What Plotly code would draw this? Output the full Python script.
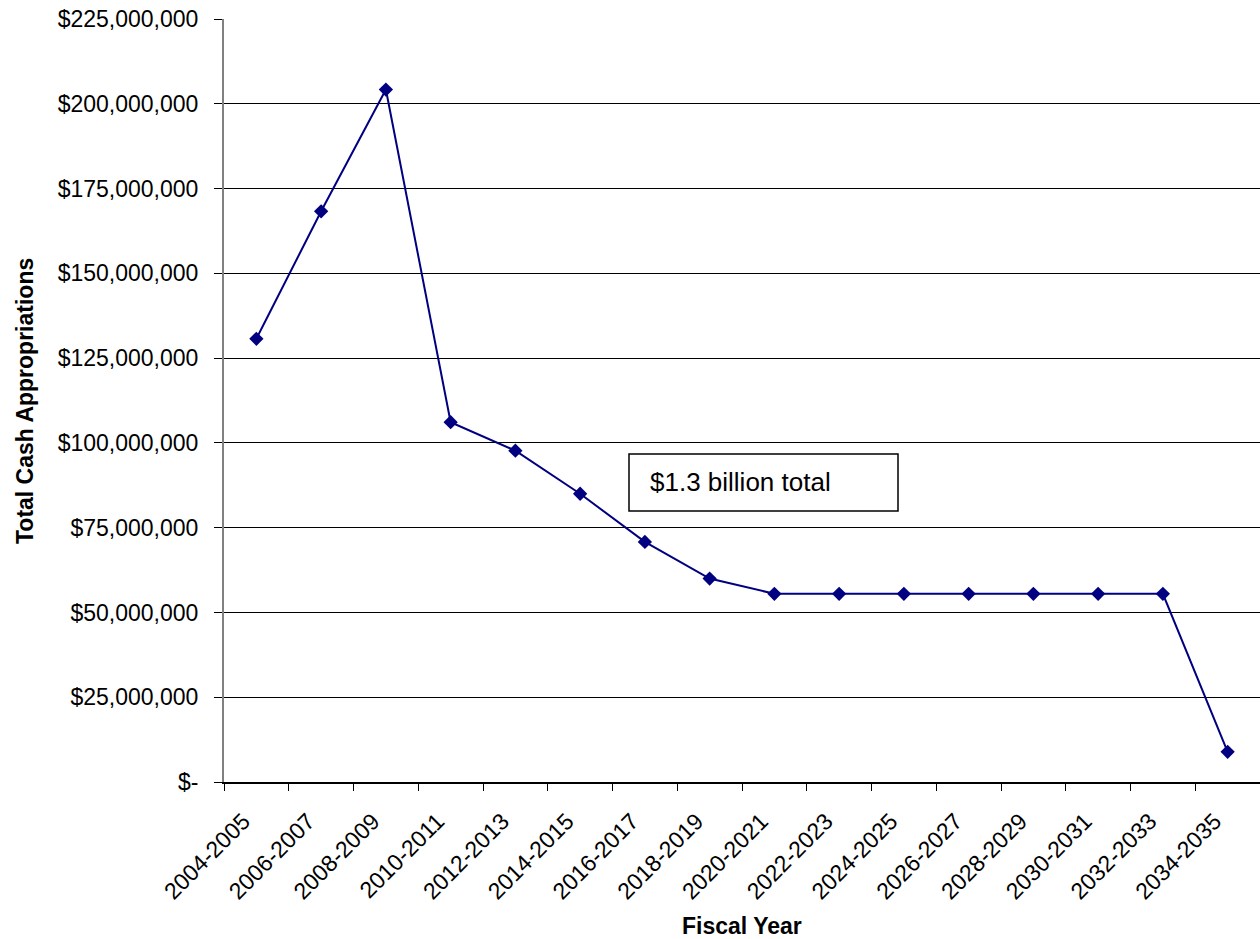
import plotly.graph_objects as go

fiscal_years = ["2004-2005", "2006-2007", "2008-2009", "2010-2011", "2012-2013",
                "2014-2015", "2016-2017", "2018-2019", "2020-2021", "2022-2023",
                "2024-2025", "2026-2027", "2028-2029", "2030-2031", "2032-2033",
                "2034-2035"]
appropriations = [130.7e6, 168.3e6, 204.2e6, 106.1e6, 97.7e6,
                  85.0e6, 70.8e6, 60.0e6, 55.5e6, 55.5e6,
                  55.5e6, 55.5e6, 55.5e6, 55.5e6, 55.5e6,
                  8.9e6]
y_tick_vals = [0, 25e6, 50e6, 75e6, 100e6, 125e6, 150e6, 175e6, 200e6, 225e6]
y_tick_text = ["$-", "$25,000,000", "$50,000,000", "$75,000,000", "$100,000,000",
               "$125,000,000", "$150,000,000", "$175,000,000", "$200,000,000",
               "$225,000,000"]
note_text = "$1.3 billion total"
x_title = "Fiscal Year"
y_title = "Total Cash Appropriations"

FONT = "Liberation Sans, Arial, sans-serif"
W, H = 1260, 939
L, R, T, B = 224, 0, 19, 157
pw = W - L - R
ph = H - T - B


def px_x(x):
    return (x - L) / pw


def px_y(y):
    return (H - B - y) / ph


fig = go.Figure()
fig.add_trace(go.Scatter(
    x=fiscal_years, y=appropriations, mode="lines+markers",
    line=dict(color="#000080", width=2),
    marker=dict(symbol="diamond", size=11, color="#000080"),
    showlegend=False, hoverinfo="x+y",
))

fig.update_layout(
    width=W, height=H,
    margin=dict(l=L, r=R, t=T, b=B, pad=0),
    paper_bgcolor="white", plot_bgcolor="white",
    font=dict(family=FONT, size=23, color="black"),
    xaxis=dict(
        type="category", range=[-0.5, len(fiscal_years) - 0.5],
        showline=True, linecolor="black", linewidth=1.5,
        ticks="outside", ticklen=7, tickcolor="black", tickwidth=1,
        tickson="boundaries", tickangle=-45, showgrid=False, zeroline=False,
        tickfont=dict(family=FONT, size=23, color="black"),
        ticklabelstandoff=15, ticklabelshift=-13,
    ),
    yaxis=dict(
        range=[0, 225e6], tickvals=y_tick_vals, ticktext=y_tick_text,
        showline=True, linecolor="#808080", linewidth=2,
        ticks="outside", ticklen=8, tickcolor="black", tickwidth=1,
        showgrid=True, gridcolor="black", gridwidth=1, zeroline=False,
        tickfont=dict(family=FONT, size=23, color="black"),
        ticklabelstandoff=11,
    ),
    shapes=[dict(
        type="rect", xref="paper", yref="paper",
        x0=px_x(629), x1=px_x(898), y0=px_y(511), y1=px_y(454),
        line=dict(color="black", width=1.5), fillcolor="white", layer="above",
    )],
    annotations=[
        dict(text=note_text, xref="paper", yref="paper",
             x=px_x(648), y=px_y(482), xanchor="left", yanchor="middle",
             showarrow=False, font=dict(family=FONT, size=26, color="black")),
        dict(text="<b>" + x_title + "</b>", xref="paper", yref="paper",
             x=px_x(742), y=px_y(926), xanchor="center", yanchor="middle",
             showarrow=False, font=dict(family=FONT, size=23, color="black")),
        dict(text="<b>" + y_title + "</b>", xref="paper", yref="paper",
             x=px_x(25), y=px_y(401), xanchor="center", yanchor="middle",
             textangle=-90,
             showarrow=False, font=dict(family=FONT, size=23, color="black")),
    ],
)

fig.write_html("out.html")
